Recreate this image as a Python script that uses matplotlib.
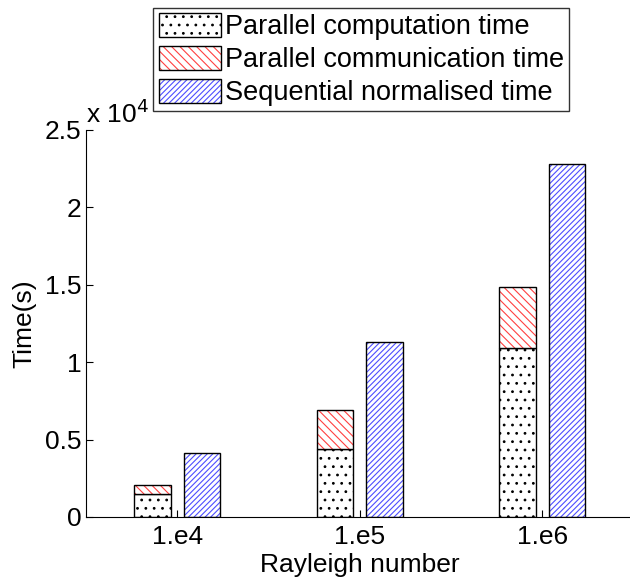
#!/usr/bin/env python3
"""Parallel vs sequential time bar chart"""

import numpy as np
import matplotlib
matplotlib.use('Agg')
import matplotlib.pyplot as plt
from matplotlib.ticker import FuncFormatter

plt.rcParams['font.family'] = ['Liberation Sans', 'DejaVu Sans']
plt.rcParams['hatch.linewidth'] = 0.8

rayleigh = ['1.e4', '1.e5', '1.e6']
comp_time = [1470, 4410, 10900]
comm_time = [600, 2520, 3940]
seq_time = [4110, 11320, 22780]

x = np.arange(1, len(rayleigh) + 1)
width = 0.2
fs = 19

fig = plt.figure(figsize=(6.3, 5.79), dpi=100)
ax = fig.add_axes([0.1365, 0.1071, 0.869, 0.6684])

ax.bar(x - 0.135, comp_time, width, color='white', edgecolor='black',
       hatch='..', linewidth=1.0, label='Parallel computation time')
b2 = ax.bar(x - 0.135, comm_time, width, bottom=comp_time, color='white',
            edgecolor='black', hatch='\\\\\\\\', linewidth=1.0,
            label='Parallel communication time')
b3 = ax.bar(x + 0.135, seq_time, width, color='white', edgecolor='black',
            hatch='//////', linewidth=1.0, label='Sequential normalised time')
for p in b2:
  p._hatch_color = (1, 0.25, 0.25, 1)
for p in b3:
  p._hatch_color = (0.3, 0.3, 1, 1)

ax.set_xlim(0.5, 3.5)
ax.set_ylim(0, 25000)
ax.set_xticks(x)
ax.set_xticklabels(rayleigh)
ax.set_yticks(np.arange(0, 25001, 5000))
ax.yaxis.set_major_formatter(FuncFormatter(lambda v, p: '%g' % (v / 1e4)))
ax.tick_params(direction='in', labelsize=fs, length=5, width=0.8)
ax.tick_params(axis='x', pad=6)
ax.spines['top'].set_visible(False)
ax.spines['right'].set_visible(False)
ax.set_xlabel('Rayleigh number', fontsize=fs, labelpad=3)
ax.set_ylabel('Time(s)', fontsize=fs, labelpad=6)
ax.text(0.0, 1.005, r'x 10$^4$', transform=ax.transAxes, fontsize=fs,
        ha='left', va='bottom')

handles, labels = ax.get_legend_handles_labels()
fig.legend(handles, labels, loc='upper left', bbox_to_anchor=(0.243, 0.987),
           fontsize=19.5, frameon=True, fancybox=False, edgecolor='black',
           handlelength=2.3, handleheight=1.0, handletextpad=0.15,
           borderpad=0.2, labelspacing=0.2, borderaxespad=0)

fig.savefig('out.png', dpi=100)
